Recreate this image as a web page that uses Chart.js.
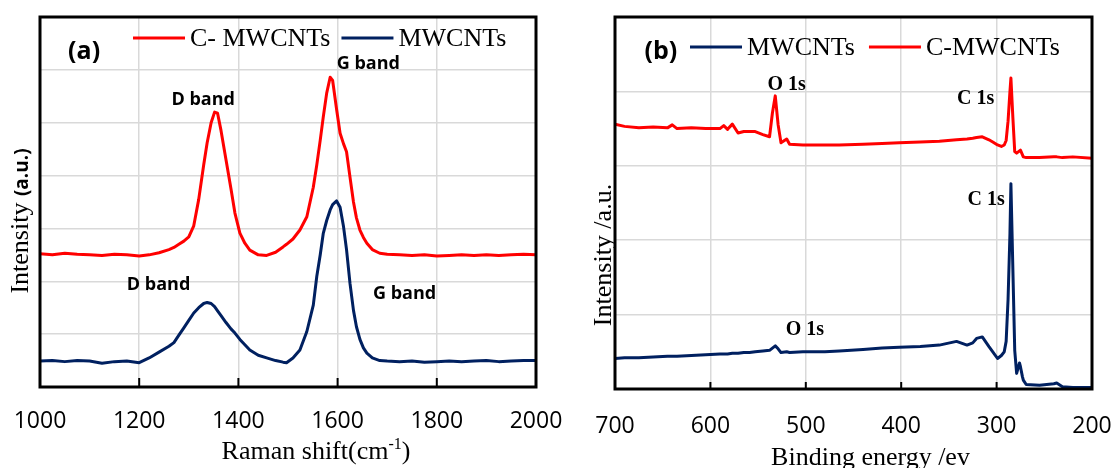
<!DOCTYPE html>
<html lang="en">
<head>
  <meta charset="UTF-8">
  <title>Raman and XPS spectra</title>
  <style>
    body { margin: 0; background: #fff; }
    .panel { position: absolute; top: 0; height: 468px; }
  </style>
</head>
<body>
  <div class="panel" style="left:0;width:580px"><canvas id="raman" width="580" height="468"></canvas></div>
  <div class="panel" style="left:580px;width:534px"><canvas id="xps" width="534" height="468"></canvas></div>

  <script src="https://cdn.jsdelivr.net/npm/chart.js"></script>
  <script>
    // (a) Raman spectra
    const ramanShift = [1000, 1025, 1050, 1075, 1100, 1125, 1150, 1175, 1200, 1220, 1240, 1260, 1270, 1280, 1290, 1300, 1310, 1320, 1330, 1337, 1345, 1352, 1358, 1365, 1375, 1385, 1393, 1403, 1413, 1423, 1440, 1457, 1475, 1490, 1497, 1510, 1524, 1538, 1551, 1558, 1565, 1571, 1578, 1585, 1590, 1598, 1605, 1612, 1618, 1625, 1632, 1638, 1645, 1652, 1659, 1670, 1685, 1700, 1725, 1750, 1775, 1800, 1825, 1850, 1875, 1900, 1925, 1950, 1975, 2000]
    const ramanC = [2.52, 2.50, 2.53, 2.51, 2.50, 2.49, 2.51, 2.50, 2.48, 2.50, 2.54, 2.60, 2.64, 2.70, 2.76, 2.84, 3.05, 3.55, 4.20, 4.62, 5.00, 5.20, 5.18, 4.85, 4.30, 3.75, 3.29, 2.91, 2.72, 2.59, 2.50, 2.49, 2.55, 2.65, 2.70, 2.80, 2.97, 3.22, 3.78, 4.20, 4.67, 5.10, 5.56, 5.86, 5.80, 5.25, 4.80, 4.60, 4.45, 3.97, 3.50, 3.20, 2.97, 2.83, 2.72, 2.60, 2.53, 2.51, 2.50, 2.49, 2.50, 2.48, 2.49, 2.50, 2.49, 2.50, 2.49, 2.50, 2.51, 2.50]
    const ramanM = [0.49, 0.50, 0.48, 0.50, 0.49, 0.45, 0.48, 0.49, 0.46, 0.55, 0.66, 0.77, 0.84, 0.98, 1.12, 1.26, 1.40, 1.50, 1.58, 1.60, 1.58, 1.52, 1.44, 1.35, 1.22, 1.10, 1.02, 0.90, 0.80, 0.70, 0.60, 0.55, 0.50, 0.47, 0.46, 0.55, 0.70, 1.05, 1.55, 2.09, 2.50, 2.90, 3.15, 3.35, 3.45, 3.52, 3.40, 3.03, 2.60, 1.96, 1.45, 1.14, 0.90, 0.74, 0.64, 0.55, 0.50, 0.49, 0.48, 0.49, 0.47, 0.48, 0.49, 0.48, 0.49, 0.50, 0.48, 0.49, 0.50, 0.50]
    const ramanTicks = [1000, 1200, 1400, 1600, 1800, 2000]

    // (b) XPS survey spectra
    const bindingEnergy = [700, 690, 675, 660, 645, 640, 635, 620, 605, 590, 586, 582, 577, 571, 565, 559, 553, 545, 538, 535, 532, 529, 526, 520, 517, 503, 480, 465, 440, 420, 402, 380, 360, 342, 331, 325, 321, 315, 308, 304, 299, 295, 292, 290, 288, 286, 285, 283, 281, 279, 276, 275, 273, 272, 269, 255, 240, 237, 231, 220, 200]
    const xpsC = [3.56, 3.53, 3.51, 3.52, 3.51, 3.55, 3.50, 3.51, 3.50, 3.50, 3.54, 3.49, 3.56, 3.44, 3.46, 3.46, 3.46, 3.42, 3.39, 3.71, 3.94, 3.55, 3.31, 3.36, 3.29, 3.28, 3.28, 3.28, 3.29, 3.30, 3.31, 3.32, 3.33, 3.35, 3.36, 3.37, 3.38, 3.39, 3.35, 3.32, 3.28, 3.26, 3.28, 3.34, 3.60, 4.00, 4.18, 3.66, 3.19, 3.17, 3.20, 3.21, 3.15, 3.12, 3.11, 3.11, 3.12, 3.12, 3.11, 3.12, 3.10]
    const xpsM = [0.41, 0.42, 0.42, 0.43, 0.44, 0.44, 0.44, 0.45, 0.46, 0.47, 0.47, 0.47, 0.48, 0.48, 0.49, 0.49, 0.50, 0.51, 0.52, 0.55, 0.58, 0.54, 0.49, 0.50, 0.49, 0.50, 0.50, 0.51, 0.53, 0.55, 0.56, 0.57, 0.59, 0.64, 0.59, 0.62, 0.68, 0.70, 0.57, 0.50, 0.41, 0.45, 0.50, 0.64, 1.20, 2.09, 2.76, 1.64, 0.52, 0.21, 0.35, 0.30, 0.17, 0.12, 0.06, 0.05, 0.07, 0.08, 0.03, 0.02, 0.02]

    const RED = '#ff0000'
    const NAVY = '#002060'
    const SERIF = 'Liberation Serif'
    const SANS = 'Open Sans'

    // draws text made of several runs (for superscripts / mixed fonts)
    const drawRuns = (ctx, runs, cx, baseY, vertical) => {
      ctx.save()
      ctx.textBaseline = 'alphabetic'
      ctx.textAlign = 'left'
      let total = 0
      runs.forEach(r => { ctx.font = r.font; total += ctx.measureText(r.text).width })
      ctx.translate(vertical ? baseY : cx, vertical ? cx : baseY)
      if (vertical) ctx.rotate(-Math.PI / 2)
      let pos = -total / 2
      runs.forEach(r => {
        ctx.font = r.font
        ctx.fillStyle = '#000'
        ctx.fillText(r.text, pos, r.rise || 0)
        pos += ctx.measureText(r.text).width
      })
      ctx.restore()
    }

    const decor = {
      id: 'decor',
      afterDatasetsDraw(chart, args, opts) {
        const { ctx, chartArea: a, scales: { x, y } } = chart
        ctx.save()
        // little inner tick marks on the bottom axis
        ctx.strokeStyle = '#000'
        ctx.lineWidth = 2
        x.ticks.forEach(t => {
          const px = x.getPixelForValue(t.value)
          ctx.beginPath()
          ctx.moveTo(px, a.bottom)
          ctx.lineTo(px, a.bottom - opts.tickLen)
          ctx.stroke()
        })
        // frame
        ctx.lineWidth = 3
        ctx.strokeRect(a.left, a.top, a.right - a.left, a.bottom - a.top)

        // peak labels
        ctx.fillStyle = '#000'
        ctx.textAlign = 'center'
        ctx.textBaseline = 'middle'
        opts.notes.forEach(n => {
          ctx.font = n.font
          ctx.fillText(n.text, x.getPixelForValue(n.x), y.getPixelForValue(n.y))
        })

        // legend in the top of the plot
        let lx = a.left + opts.legend.dx
        const ly = a.top + opts.legend.dy
        ctx.textAlign = 'left'
        ctx.font = '26px ' + SERIF
        opts.legend.order.forEach(i => {
          const ds = chart.data.datasets[i]
          ctx.strokeStyle = ds.borderColor
          ctx.lineWidth = 3
          ctx.beginPath()
          ctx.moveTo(lx, ly)
          ctx.lineTo(lx + 52, ly)
          ctx.stroke()
          lx += 57
          ctx.fillText(ds.label, lx, ly + 1)
          lx += ctx.measureText(ds.label).width + opts.legend.gap
        })
        ctx.restore()

        // axis titles
        const mid = (a.left + a.right) / 2
        drawRuns(ctx, opts.xTitle.runs, mid + opts.xTitle.dx, a.bottom + opts.xTitle.dy, false)
        drawRuns(ctx, opts.yTitle.runs, (a.top + a.bottom) / 2 + opts.yTitle.dy, a.left + opts.yTitle.dx, true)
      }
    }

    const gridStyle = { color: '#d9d9d9', lineWidth: 1.5, drawTicks: false }
    const tickFont = { family: SANS, size: 23 }

    // fixed axis box, no extra room for the end labels
    const fixX = h => s => { s.height = h; s.paddingLeft = 0; s.paddingRight = 0 }

    const line = (label, xs, ys, color) => ({
      label,
      data: xs.map((v, i) => ({ x: v, y: ys[i] })),
      borderColor: color,
      backgroundColor: color,
      borderWidth: 3,
      pointRadius: 0,
      tension: 0,
      borderJoinStyle: 'round'
    })

    // panel (a)
    new Chart(document.getElementById('raman'), {
      type: 'line',
      data: {
        datasets: [
          line('C- MWCNTs', ramanShift, ramanC, RED),
          line('MWCNTs', ramanShift, ramanM, NAVY)
        ]
      },
      options: {
        responsive: false,
        animation: false,
        layout: { padding: { top: 17, right: 44, left: 0, bottom: 0 } },
        scales: {
          x: {
            type: 'linear', min: 1000, max: 2000,
            afterBuildTicks: s => { s.ticks = ramanTicks.map(v => ({ value: v })) },
            afterFit: fixX(81),
            grid: gridStyle,
            border: { display: false },
            ticks: { font: tickFont, color: '#000', padding: 21, maxRotation: 0, callback: v => String(v) }
          },
          y: {
            min: 0, max: 7,
            afterFit: s => { s.width = 40 },
            grid: gridStyle,
            border: { display: false },
            ticks: { display: false, stepSize: 1 }
          }
        },
        plugins: {
          legend: { display: false },
          tooltip: { enabled: false },
          decor: {
            tickLen: 9,
            legend: { order: [0, 1], dx: 93, dy: 21, gap: 11 },
            notes: [
              { text: '(a)', x: 1089, y: 6.34, font: 'bold 25px ' + SANS },
              { text: 'D band', x: 1329, y: 5.43, font: 'bold 18px ' + SANS },
              { text: 'G band', x: 1662, y: 6.11, font: 'bold 18px ' + SANS },
              { text: 'D band', x: 1239, y: 1.93, font: 'bold 18px ' + SANS },
              { text: 'G band', x: 1735, y: 1.76, font: 'bold 18px ' + SANS }
            ],
            xTitle: {
              dx: 28, dy: 72,
              runs: [
                { text: 'Raman shift(cm', font: '26px ' + SERIF },
                { text: '-1', font: '16px ' + SERIF, rise: -10 },
                { text: ')', font: '26px ' + SERIF }
              ]
            },
            yTitle: {
              dx: -12, dy: 19,
              runs: [
                { text: 'Intensity ', font: '26px ' + SERIF },
                { text: '(a.u.)', font: 'bold 19px ' + SANS }
              ]
            }
          }
        }
      },
      plugins: [decor]
    })

    // panel (b)
    new Chart(document.getElementById('xps'), {
      type: 'line',
      data: {
        datasets: [
          line('C-MWCNTs', bindingEnergy, xpsC, RED),
          line('MWCNTs', bindingEnergy, xpsM, NAVY)
        ]
      },
      options: {
        responsive: false,
        animation: false,
        layout: { padding: { top: 17, right: 22, left: 0, bottom: 0 } },
        scales: {
          x: {
            type: 'linear', min: 200, max: 700, reverse: true,
            afterFit: fixX(79),
            grid: gridStyle,
            border: { display: false },
            ticks: { font: tickFont, color: '#000', padding: 24, stepSize: 100, maxRotation: 0 }
          },
          y: {
            min: 0, max: 5,
            afterFit: s => { s.width = 35 },
            grid: gridStyle,
            border: { display: false },
            ticks: { display: false, stepSize: 1 }
          }
        },
        plugins: {
          legend: { display: false },
          tooltip: { enabled: false },
          decor: {
            tickLen: 7,
            legend: { order: [1, 0], dx: 75, dy: 30, gap: 14 },
            notes: [
              { text: '(b)', x: 652, y: 4.53, font: 'bold 25px ' + SANS },
              { text: 'O 1s', x: 520, y: 4.09, font: 'bold 20px ' + SERIF },
              { text: 'C 1s', x: 322, y: 3.90, font: 'bold 20px ' + SERIF },
              { text: 'C 1s', x: 311, y: 2.54, font: 'bold 20px ' + SERIF },
              { text: 'O 1s', x: 501, y: 0.79, font: 'bold 20px ' + SERIF }
            ],
            xTitle: {
              dx: 17, dy: 76,
              runs: [{ text: 'Binding energy /ev', font: '26px ' + SERIF }]
            },
            yTitle: {
              dx: -4, dy: 52,
              runs: [{ text: 'Intensity /a.u.', font: '26px ' + SERIF }]
            }
          }
        }
      },
      plugins: [decor]
    })
  </script>
</body>
</html>
